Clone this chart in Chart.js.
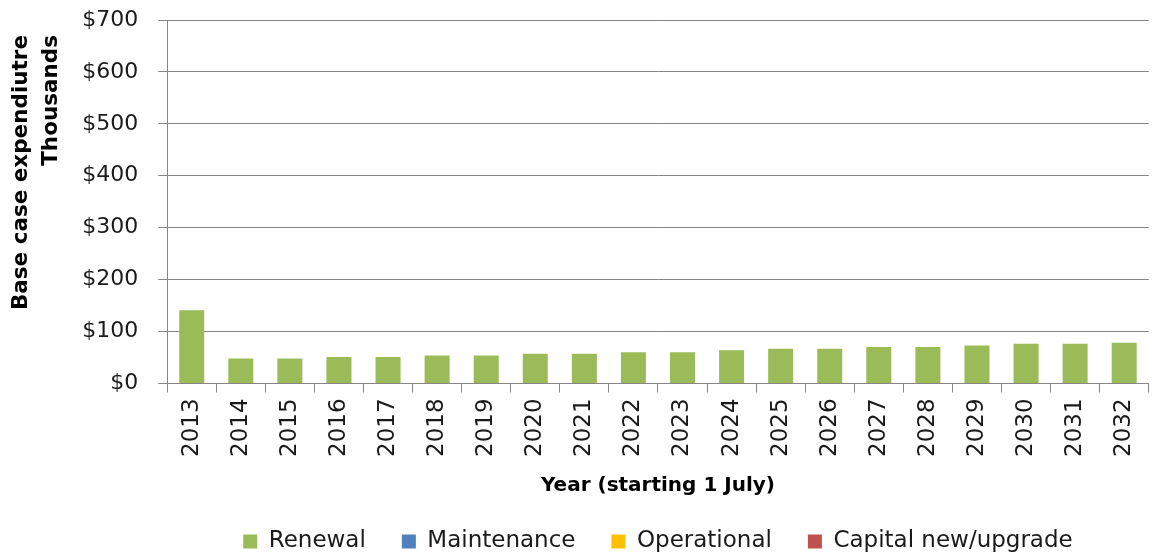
<!DOCTYPE html>
<html>
<head>
<meta charset="utf-8">
<script src="https://cdn.jsdelivr.net/npm/chart.js@4/dist/chart.umd.min.js"></script>
<style>
html,body{margin:0;padding:0;background:#fff;}
#wrap{width:1158px;height:556px;position:relative;}
</style>
</head>
<body>
<div id="wrap"><canvas id="c"></canvas></div>
<script>
const years = ['2013','2014','2015','2016','2017','2018','2019','2020','2021','2022','2023','2024','2025','2026','2027','2028','2029','2030','2031','2032'];
const renewal = [141,48,48,51,51,54,54,57,57,60,60,64,67,67,70,70,73,76.5,76.5,78.5];
const maintenance = [0,0,0,0,0,0,0,0,0,0,0,0,0,0,0,0,0,0,0,0];
const operational = [0,0,0,0,0,0,0,0,0,0,0,0,0,0,0,0,0,0,0,0];
const capital = [0,0,0,0,0,0,0,0,0,0,0,0,0,0,0,0,0,0,0,0];
const yTicks = [0,100,200,300,400,500,600,700];

const FONT = '"DejaVu Sans", sans-serif';
Chart.defaults.font.family = FONT;
Chart.defaults.color = '#1a1a1a';

// centre the legend under the plot area (as in the original)
const centerLegend = {
  id: 'centerLegend',
  beforeDraw(chart) {
    const lg = chart.legend, ca = chart.chartArea;
    if (!lg) return;
    const shift = (ca.left + ca.right) / 2 - (lg.left + lg.right) / 2;
    lg.left += shift; lg.right += shift;
  }
};

new Chart(document.getElementById('c'), {
  type: 'bar',
  data: {
    labels: years,
    datasets: [
      {label:'Renewal', data: renewal, backgroundColor:'#9BBB59'},
      {label:'Maintenance', data: maintenance, backgroundColor:'#4F81BD'},
      {label:'Operational', data: operational, backgroundColor:'#FFC000'},
      {label:'Capital new/upgrade', data: capital, backgroundColor:'#C0504D'}
    ]
  },
  plugins: [centerLegend],
  options: {
    responsive: true,
    maintainAspectRatio: false,
    animation: false,
    layout: {padding: {top: 20, right: 8, left: 6, bottom: -7}},
    datasets: {bar: {barPercentage: 0.51, categoryPercentage: 1}},
    plugins: {
      tooltip: {enabled:false},
      legend: {
        position: 'bottom',
        labels: {
          font: {size: 23},
          boxWidth: 14, boxHeight: 14,
          padding: 36,
          color: '#1a1a1a'
        }
      }
    },
    scales: {
      x: {
        stacked: true,
        grid: {display: true, drawOnChartArea: false, drawTicks: true, tickLength: 9, color: '#868686', offset: true},
        border: {color: '#868686'},
        ticks: {minRotation: 90, maxRotation: 90, font: {size: 23}, padding: 6, color:'#1a1a1a'},
        title: {display: true, text: 'Year (starting 1 July)', font: {size: 20, weight: 'bold'}, color: '#000', padding: {top: 11, bottom: -4}}
      },
      y: {
        stacked: true,
        min: 0, max: 700,
        afterBuildTicks: (s) => { s.ticks = yTicks.map(v => ({value: v})); },
        grid: {color: '#868686', tickLength: 27, drawTicks: true, tickBorderDash: [0, 18, 9, 200]},
        border: {color: '#868686'},
        ticks: {font: {size: 22}, padding: 2, color:'#1a1a1a', callback: v => '$' + v},
        title: {display: true, align: 'end', text: ['Base case expendiutre  ', 'Thousands  '], font: {size: 21.5, weight: 'bold', lineHeight: 1.4}, color: '#000', padding: {top: 0, bottom: 14}}
      }
    }
  }
});
</script>
</body>
</html>
